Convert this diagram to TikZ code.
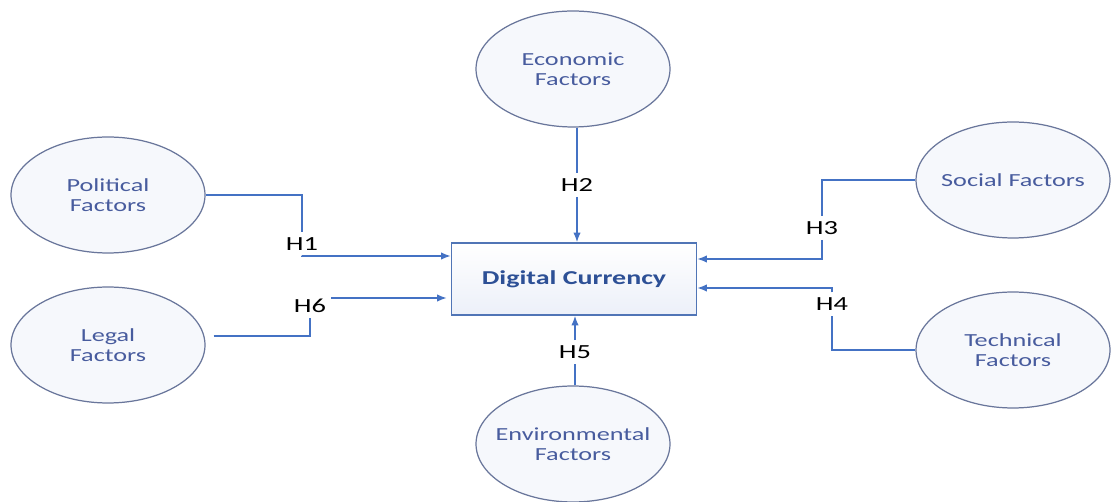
\documentclass[tikz,border=0pt]{standalone}
\usepackage{fontspec}
\setmainfont[FakeStretch=1.42]{Carlito}
\usetikzlibrary{shapes.geometric,arrows.meta,calc}
\definecolor{linkblue}{RGB}{68,114,196}
\definecolor{ovalline}{RGB}{105,118,155}
\definecolor{ovalfill}{RGB}{246,248,252}
\definecolor{ovaltext}{RGB}{72,92,158}
\definecolor{boxtext}{RGB}{45,80,150}
\definecolor{boxfill}{RGB}{236,240,249}
% zero-size label so that long names do not widen the oval
\newcommand{\ovaltext}[1]{\raisebox{-4.1pt}[0pt][0pt]{\makebox[0pt][c]{\begin{tabular}{@{}c@{}}#1\end{tabular}}}}
\tikzset{
  factor/.style={ellipse, draw=ovalline, line width=0.7pt, fill=ovalfill,
    minimum width=3.88cm, minimum height=2.32cm, inner sep=0pt,
    text=ovaltext, font=\fontsize{10.5}{11.3}\selectfont},
  core/.style={rectangle, draw=linkblue!80!gray, line width=0.8pt,
    top color=white, bottom color=boxfill,
    minimum width=4.9cm, minimum height=1.44cm,
    text=boxtext, font=\fontsize{11.2}{13}\selectfont\bfseries},
  hyp/.style={inner sep=2.8pt, font=\fontsize{11.4}{13}\selectfont, text=black},
  link/.style={draw=linkblue, line width=0.9pt},
  arr/.style={link, -{Latex[length=5.5pt,width=4.2pt]}}
}
\begin{document}
\begin{tikzpicture}[x=0.02cm, y=-0.02cm]
  \useasboundingbox (0,0) rectangle (1112,502);
  \fill[white] (0,0) rectangle (1112,502);

  % central construct
  \node[core] (dc) at (574,279) {Digital Currency};

  % the six factors
  \node[factor] (pol) at (108,195) {\ovaltext{Political\\Factors}};
  \node[factor] (leg) at (108,345) {\ovaltext{Legal\\Factors}};
  \node[factor] (eco) at (573,69)  {\ovaltext{Economic\\Factors}};
  \node[factor] (env) at (573,444) {\ovaltext{Environmental\\Factors}};
  \node[factor] (soc) at (1013,180) {\ovaltext{Social Factors}};
  \node[factor] (tec) at (1013,350) {\ovaltext{Technical\\Factors}};

  % hypothesis labels
  \node[hyp] (h1) at (302,244) {H1};
  \node[hyp] (h2) at (577,185) {H2};
  \node[hyp] (h3) at (822,228) {H3};
  \node[hyp] (h4) at (832,304) {H4};
  \node[hyp] (h5) at (575,352) {H5};
  \node[hyp] (h6) at (310,306) {H6};

  % arrow targets on the box
  \coordinate (t1) at ($(dc.west)+(0,-23)$);
  \coordinate (t6) at ($(dc.west)+(0,19)$);
  \coordinate (t3) at ($(dc.east)+(0,-20)$);
  \coordinate (t4) at ($(dc.east)+(0,9)$);

  % H1
  \draw[link] (pol.east) -| (h1.north);
  \draw[arr] (h1.south) |- (t1);
  % H6
  \draw[link] ($(leg.east)+(8,-9)$) -| (h6.south);
  \draw[arr] (h6.east |- t6) -- ($(t6)+(-4,0)$);
  % H2
  \draw[link] (eco.south -| h2) -- (h2.north);
  \draw[arr] (h2.south) -- (h2 |- dc.north);
  % H5
  \draw[link] (env.north -| h5) -- (h5.south);
  \draw[arr] (h5.north) -- (h5 |- dc.south);
  % H3
  \draw[link] (soc.west) -| (h3.north);
  \draw[arr] (h3.south) |- (t3);
  % H4
  \draw[link] (tec.west) -| (h4.south);
  \draw[arr] (h4.north) |- (t4);
\end{tikzpicture}
\end{document}
